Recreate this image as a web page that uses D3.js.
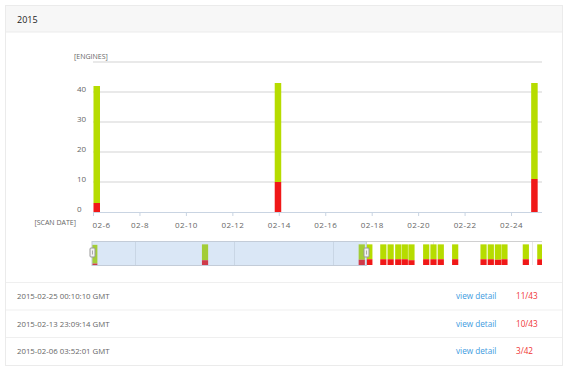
<!DOCTYPE html>
<html>
<head>
<meta charset="utf-8">
<script src="https://cdn.jsdelivr.net/npm/d3@7"></script>
<style>
  body { margin: 0; background: #fff; font-family: "Open Sans", sans-serif; }
  text { font-family: "Open Sans", sans-serif; }
</style>
</head>
<body>
<svg id="chart" width="570" height="375"></svg>
<script>
// scans (UTC) and detection counts
const scanTimes = [
  "2015-02-06T03:52:01Z", "2015-02-13T23:09:14Z", "2015-02-25T00:10:10Z",
  "2015-02-25T13:00:00Z", "2015-02-26T12:40:00Z", "2015-02-27T01:00:00Z",
  "2015-02-27T13:55:00Z", "2015-02-28T01:00:00Z", "2015-02-28T12:15:00Z",
  "2015-03-01T13:10:00Z", "2015-03-02T01:30:00Z", "2015-03-02T13:50:00Z",
  "2015-03-03T14:10:00Z", "2015-03-05T14:10:00Z", "2015-03-06T02:25:00Z",
  "2015-03-06T14:25:00Z", "2015-03-07T01:30:00Z", "2015-03-08T13:40:00Z",
  "2015-03-09T14:10:00Z"
];
const detected = [3, 10, 11, 12, 12, 12, 12, 12, 10, 12, 12, 12, 12, 12, 12, 11, 12, 12, 12];
const engines = [42, 43, 43, 43, 43, 43, 43, 43, 43, 43, 43, 43, 43, 43, 43, 43, 43, 43, 43];

const yTicks = [0, 10, 20, 30, 40];
const xTickDates = ["2015-02-06", "2015-02-08", "2015-02-10", "2015-02-12", "2015-02-14",
  "2015-02-16", "2015-02-18", "2015-02-20", "2015-02-22", "2015-02-24"];
const viewStart = "2015-02-06T00:00:00Z";
const viewEnd = "2015-02-25T08:00:00Z";
const navStart = "2015-02-06T00:00:00Z";
const navEnd = "2015-03-09T17:00:00Z";
const title = "2015";

const green = "#b6dc00", red = "#f01818";

const scans = scanTimes.map((t, i) => ({
  date: d3.isoParse(t), bad: detected[i], total: engines[i]
}));

const svg = d3.select("#chart");

// panel
svg.append("rect")
  .attr("x", 5.5).attr("y", 5.5).attr("width", 557).attr("height", 360)
  .attr("fill", "#fff").attr("stroke", "#ebebeb");
svg.append("rect")
  .attr("x", 5.5).attr("y", 5.5).attr("width", 557).attr("height", 26.5)
  .attr("fill", "#f7f7f7").attr("stroke", "#ebebeb");
svg.append("text")
  .attr("x", 17).attr("y", 22.5)
  .attr("font-size", "9px").attr("fill", "#222")
  .text(title);

// main chart
const plot = { left: 93, right: 542, top: 62, bottom: 212 };

const x = d3.scaleUtc()
  .domain([d3.isoParse(viewStart), d3.isoParse(viewEnd)])
  .range([plot.left, plot.right]);

const y = d3.scaleLinear()
  .domain([0, 50])
  .range([plot.bottom, plot.top]);

// grid
svg.append("g")
  .selectAll("line")
  .data([10, 20, 30, 40, 50])
  .join("line")
  .attr("x1", plot.left).attr("x2", plot.right)
  .attr("y1", (d) => y(d)).attr("y2", (d) => y(d))
  .attr("stroke", "#e2e2e2").attr("stroke-width", 1.5);

// y labels
svg.append("g")
  .selectAll("text")
  .data(yTicks)
  .join("text")
  .attr("x", 77)
  .attr("y", (d) => y(d) - 0.5)
  .attr("font-size", "8px").attr("fill", "#666")
  .text((d) => d);

svg.append("text")
  .attr("x", 74).attr("y", 58.5)
  .attr("font-size", "7px").attr("fill", "#666")
  .text("[ENGINES]");

// bars
const inView = scans.filter((d) => d.date >= x.domain()[0] && d.date <= x.domain()[1]);
const barW = 6.5;

const bars = svg.append("g");
bars.selectAll(".ok")
  .data(inView)
  .join("rect")
  .attr("class", "ok")
  .attr("x", (d) => x(d.date) - barW / 2)
  .attr("y", (d) => y(d.total))
  .attr("width", barW)
  .attr("height", (d) => y(d.bad) - y(d.total))
  .attr("fill", green);
bars.selectAll(".bad")
  .data(inView)
  .join("rect")
  .attr("class", "bad")
  .attr("x", (d) => x(d.date) - barW / 2)
  .attr("y", (d) => y(d.bad))
  .attr("width", barW)
  .attr("height", (d) => y(0) - y(d.bad))
  .attr("fill", red);

// x axis
const xAxis = svg.append("g")
  .attr("transform", `translate(0, ${plot.bottom})`)
  .call(d3.axisBottom(x)
    .tickValues(xTickDates.map((d) => d3.isoParse(d + "T00:00:00Z")))
    .tickFormat(d3.utcFormat("%m-%-d"))
    .tickSize(4)
    .tickPadding(6));
xAxis.select(".domain")
  .attr("d", `M${plot.left},0.5H${plot.right}`)
  .attr("stroke", "#c9d4e2");
xAxis.selectAll(".tick line").attr("stroke", "#c9d4e2");
xAxis.selectAll(".tick text")
  .attr("font-size", "8px")
  .attr("fill", "#666")
  .attr("font-family", "Open Sans")
  .attr("letter-spacing", "0.4px")
  .each(function (d) {
    if (x(d) - 9 < plot.left) d3.select(this).attr("text-anchor", "start").attr("x", -1);
  });

svg.append("text")
  .attr("x", 76).attr("y", 224.5)
  .attr("text-anchor", "end")
  .attr("font-size", "7px").attr("fill", "#666")
  .text("[SCAN DATE]");

// navigator
const nav = { left: 92, right: 542, top: 241, bottom: 265 };
const nx = d3.scaleUtc()
  .domain([d3.isoParse(navStart), d3.isoParse(navEnd)])
  .range([nav.left, nav.right]);
const ny = d3.scaleLinear()
  .domain([0, 50])
  .range([nav.bottom, nav.top]);

svg.append("defs").append("clipPath").attr("id", "navclip")
  .append("rect")
  .attr("x", nav.left).attr("y", nav.top)
  .attr("width", nav.right - nav.left).attr("height", nav.bottom - nav.top);

const navG = svg.append("g").attr("clip-path", "url(#navclip)");

navG.selectAll(".week")
  .data(d3.utcMonday.range(nx.domain()[0], nx.domain()[1]))
  .join("line")
  .attr("class", "week")
  .attr("x1", (d) => Math.round(nx(d)) + 0.5).attr("x2", (d) => Math.round(nx(d)) + 0.5)
  .attr("y1", nav.top).attr("y2", nav.bottom)
  .attr("stroke", "#e8e8e8");

const nW = 6.2;
navG.selectAll(".nok")
  .data(scans)
  .join("rect")
  .attr("class", "nok")
  .attr("x", (d) => nx(d.date) - nW / 2)
  .attr("y", (d) => ny(d.total))
  .attr("width", nW)
  .attr("height", (d) => ny(d.bad) - ny(d.total))
  .attr("fill", green);
navG.selectAll(".nbad")
  .data(scans)
  .join("rect")
  .attr("class", "nbad")
  .attr("x", (d) => nx(d.date) - nW / 2)
  .attr("y", (d) => ny(d.bad))
  .attr("width", nW)
  .attr("height", (d) => ny(0) - ny(d.bad))
  .attr("fill", red);

// navigator top outline
svg.append("line")
  .attr("x1", nav.left).attr("x2", nav.right)
  .attr("y1", nav.top + 0.5).attr("y2", nav.top + 0.5)
  .attr("stroke", "#d0d0d0").attr("stroke-width", 1.2);

// selected range
const selX0 = nx(x.domain()[0]);
const selX1 = nx(x.domain()[1]);
svg.append("rect")
  .attr("x", selX0).attr("y", nav.top + 0.5)
  .attr("width", selX1 - selX0).attr("height", nav.bottom - nav.top)
  .attr("fill", "#6b9fdc").attr("fill-opacity", 0.25)
  .attr("stroke", "#c3ccd8");

// handles
[selX0, selX1].forEach((hx) => {
  const h = svg.append("g").attr("transform", `translate(${Math.round(hx) + 0.5}, 248)`);
  h.append("rect")
    .attr("x", -2.5).attr("y", 0).attr("width", 5).attr("height", 9)
    .attr("rx", 1)
    .attr("fill", "#f2f2f2").attr("stroke", "#999");
  h.append("line")
    .attr("x1", 0).attr("x2", 0).attr("y1", 2.5).attr("y2", 6.5)
    .attr("stroke", "#aaa");
});

// table of scans shown in the view, latest first
const rows = inView.slice().sort((a, b) => b.date - a.date);
const fmt = d3.utcFormat("%Y-%m-%d %H:%M:%S");
const rowTop = 282.5, rowH = 27.5;

const rowG = svg.append("g")
  .selectAll("g")
  .data(rows)
  .join("g")
  .attr("transform", (d, i) => `translate(0, ${rowTop + i * rowH})`);

rowG.append("line")
  .attr("x1", 6).attr("x2", 562)
  .attr("y1", 0).attr("y2", 0)
  .attr("stroke", "#efefef");
rowG.append("text")
  .attr("x", 17).attr("y", rowH / 2 + 3)
  .attr("font-size", "7.8px").attr("fill", "#666")
  .text((d) => fmt(d.date) + " GMT");
rowG.append("text")
  .attr("x", 456).attr("y", rowH / 2 + 3)
  .attr("font-size", "8.2px").attr("fill", "#3d9be0")
  .text("view detail");
rowG.append("text")
  .attr("x", 516).attr("y", rowH / 2 + 3)
  .attr("font-size", "8.2px").attr("fill", "#f03535")
  .text((d) => d.bad + "/" + d.total);
</script>
</body>
</html>
